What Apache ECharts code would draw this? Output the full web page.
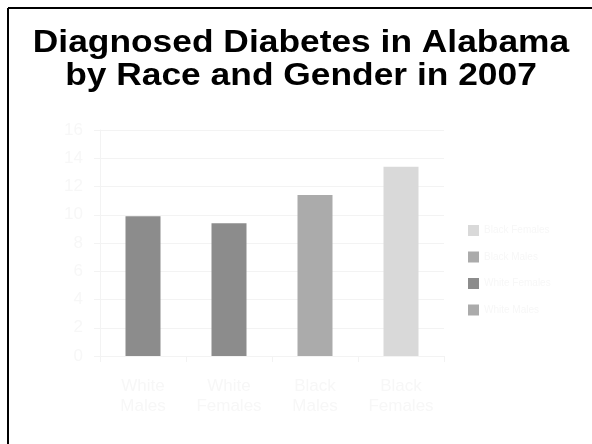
<!DOCTYPE html>
<html>
<head>
<meta charset="utf-8">
<script src="https://cdn.jsdelivr.net/npm/echarts@6/dist/echarts.min.js"></script>
<style>
  html, body { margin: 0; padding: 0; background: #ffffff; }
  #chart { width: 592px; height: 444px; }
</style>
</head>
<body>
<div id="chart"></div>
<script>
// Diagnosed diabetes prevalence (%) in Alabama, 2007
const categories = ['White\nMales', 'White\nFemales', 'Black\nMales', 'Black\nFemales'];
const values = [9.9, 9.4, 11.4, 13.4];
const barColors = ['#8c8c8c', '#8c8c8c', '#ababab', '#d9d9d9'];
const legendNames = ['Black Females', 'Black Males', 'White Females', 'White Males'];
const legendColors = ['#d9d9d9', '#ababab', '#8c8c8c', '#ababab'];
const yTicks = [0, 2, 4, 6, 8, 10, 12, 14, 16];
const titleText = 'Diagnosed Diabetes in Alabama\nby Race and Gender in 2007';

const faint = '#f7f7f7';
const font = 'Liberation Sans';

// One series per group so each gets its own legend entry; bars share a slot.
const series = categories.map((cat, i) => {
  const name = cat.replace('\n', ' ');
  const legendIdx = legendNames.indexOf(name);
  return {
    name: name,
    type: 'bar',
    barWidth: 35,
    barGap: '-100%',
    color: legendColors[legendIdx],
    data: categories.map((c, j) => j === i
      ? { value: values[i], itemStyle: { color: barColors[i] } }
      : '-')
  };
});

const chart = echarts.init(document.getElementById('chart'));
chart.setOption({
  animation: false,
  backgroundColor: '#ffffff',
  graphic: [
    { type: 'line', shape: { x1: 8, y1: 8, x2: 8, y2: 444 }, style: { stroke: '#000', lineWidth: 2 } },
    { type: 'line', shape: { x1: 8, y1: 8, x2: 592, y2: 8 }, style: { stroke: '#000', lineWidth: 2 } },
    {
      // heavy, slightly squat heading
      type: 'text',
      x: 301,
      y: 27,
      scaleX: 1.04,
      scaleY: 0.92,
      style: {
        text: titleText,
        fontFamily: font,
        fontWeight: 'bold',
        fontSize: 34,
        lineHeight: 36,
        fill: '#000000',
        align: 'center',
        verticalAlign: 'top'
      }
    }
  ],
  legend: {
    data: legendNames,
    orient: 'vertical',
    left: 463,
    top: 220,
    itemWidth: 11,
    itemHeight: 11,
    itemGap: 15.5,
    icon: 'rect',
    textStyle: { fontFamily: font, fontSize: 10, color: faint }
  },
  grid: { left: 100, right: 148, top: 130, bottom: 88, containLabel: false },
  xAxis: {
    type: 'category',
    data: categories,
    axisLine: { lineStyle: { color: '#f3f3f3' } },
    axisTick: { show: true, length: 6, lineStyle: { color: '#f3f3f3' } },
    axisLabel: { fontFamily: font, fontSize: 17, color: faint, margin: 20, lineHeight: 20 }
  },
  yAxis: {
    type: 'value',
    min: yTicks[0],
    max: yTicks[yTicks.length - 1],
    interval: 2,
    axisLine: { show: true, lineStyle: { color: '#f3f3f3' } },
    axisTick: { show: true, length: 6, lineStyle: { color: '#f3f3f3' } },
    axisLabel: { fontFamily: font, fontSize: 17, color: faint, margin: 17 },
    splitLine: { lineStyle: { color: '#f3f3f3', width: 1 } }
  },
  series: series
});
</script>
</body>
</html>
